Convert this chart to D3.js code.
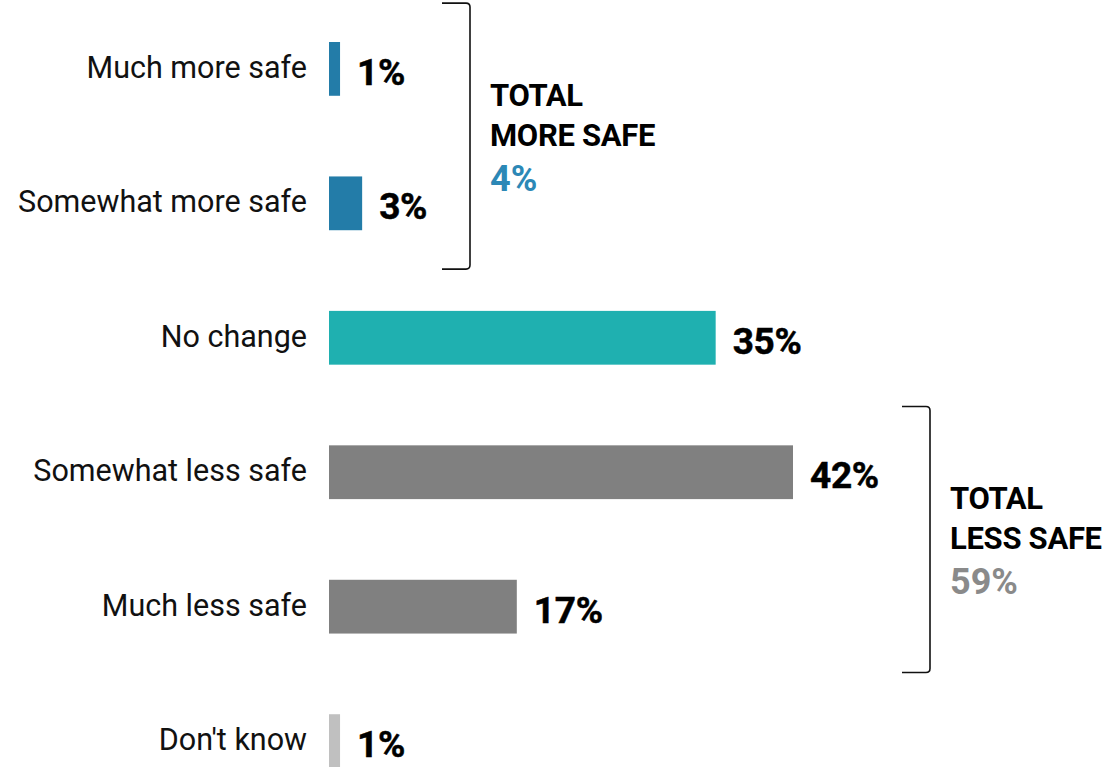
<!DOCTYPE html>
<html>
<head>
<meta charset="utf-8">
<script src="https://cdn.jsdelivr.net/npm/d3@7"></script>
<style>
  html, body { margin: 0; padding: 0; background: #fff; }
  svg { display: block; }
  text { font-family: Roboto, "Noto Sans", sans-serif; }
</style>
</head>
<body>
<svg id="chart" width="1109" height="767"></svg>
<script>
// Survey responses: perceived change in safety
const categories = ["Much more safe", "Somewhat more safe", "No change", "Somewhat less safe", "Much less safe", "Don't know"];
const values = [1, 3, 35, 42, 17, 1];
const barColors = ["#237ca8", "#237ca8", "#1fb0b0", "#808080", "#808080", "#c0c0c0"];

// Grouped totals shown beside the brackets
const groupNames = ["TOTAL\nMORE SAFE", "TOTAL\nLESS SAFE"];
const groupMembers = [["Much more safe", "Somewhat more safe"], ["Somewhat less safe", "Much less safe"]];
const groupTotals = [4, 59];
const groupColors = ["#2c88b6", "#8a8a8a"];

const svg = d3.select("#chart");

const x = d3.scaleLinear().domain([0, 42]).range([329, 793]);
const y = d3.scaleBand().domain(categories).range([42, 768]).paddingInner(0.6).paddingOuter(0);

// horizontal position of each bracket's spine
const bracketX = [470, 930];

// Bars
svg.selectAll("rect.bar")
  .data(categories)
  .join("rect")
  .attr("class", "bar")
  .attr("x", x(0))
  .attr("y", d => y(d))
  .attr("width", (d, i) => x(values[i]) - x(0))
  .attr("height", y.bandwidth())
  .attr("fill", (d, i) => barColors[i]);

// Category labels
svg.selectAll("text.cat")
  .data(categories)
  .join("text")
  .attr("class", "cat")
  .attr("x", 307)
  .attr("y", d => y(d) + y.bandwidth() / 2 + 9)
  .attr("text-anchor", "end")
  .attr("font-size", 30.5)
  .attr("fill", "#111")
  .text(d => d);

// Value labels
svg.selectAll("text.val")
  .data(categories)
  .join("text")
  .attr("class", "val")
  .attr("x", (d, i) => x(values[i]) + 17)
  .attr("y", d => y(d) + y.bandwidth() / 2 + 16)
  .attr("font-size", 37)
  .attr("font-weight", 700)
  .attr("letter-spacing", -0.3)
  .attr("fill", "#000")
  .attr("stroke", "#000")
  .attr("stroke-width", 0.5)
  .text((d, i) => values[i] + "%");

// Brackets with group totals
groupMembers.forEach((members, g) => {
  const top = y(members[0]);
  const bottom = y(members[members.length - 1]) + y.bandwidth();
  const mid = (top + bottom) / 2;
  const y0 = mid - 133, y1 = mid + 133;
  const bx = bracketX[g];
  const r = 4;
  const path = d3.path();
  path.moveTo(bx - 28, y0);
  path.lineTo(bx - r, y0);
  path.quadraticCurveTo(bx, y0, bx, y0 + r);
  path.lineTo(bx, y1 - r);
  path.quadraticCurveTo(bx, y1, bx - r, y1);
  path.lineTo(bx - 28, y1);
  svg.append("path")
    .attr("d", path.toString())
    .attr("fill", "none")
    .attr("stroke", "#111")
    .attr("stroke-width", 1.6);

  const lines = groupNames[g].split("\n");
  const t = svg.append("g").attr("transform", `translate(${bx + 20},${mid})`);
  lines.forEach((ln, k) => {
    t.append("text")
      .attr("x", 0)
      .attr("y", -30 + k * 40)
      .attr("font-size", 31)
      .attr("font-weight", 700)
      .attr("letter-spacing", -0.3)
      .attr("fill", "#000")
      .text(ln);
  });
  t.append("text")
    .attr("x", 0)
    .attr("y", 55)
    .attr("font-size", 36)
    .attr("font-weight", 700)
    .attr("fill", groupColors[g])
    .text(groupTotals[g] + "%");
});
</script>
</body>
</html>
